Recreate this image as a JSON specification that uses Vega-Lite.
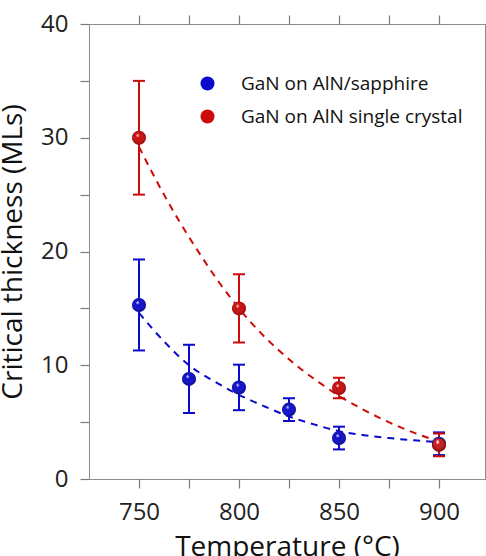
{
  "$schema": "https://vega.github.io/schema/vega-lite/v6.json",
  "width": 396,
  "height": 455,
  "autosize": {"type": "none"},
  "padding": {"left": 89, "top": 24, "right": 1, "bottom": 77},
  "background": "white",
  "config": {
    "view": {"stroke": "#8c8c8c", "strokeWidth": 1},
    "axis": {
      "grid": false,
      "zindex": 1,
      "domain": false,
      "ticks": true,
      "tickSize": 9,
      "tickColor": "#7a7a7a",
      "tickWidth": 1.2,
      "labelFont": "Open Sans",
      "labelFontSize": 24,
      "labelColor": "#222222",
      "titleFont": "Open Sans",
      "titleFontSize": 28,
      "titleFontWeight": "normal",
      "titleColor": "#111111"
    },
    "legend": {
      "labelFont": "Open Sans",
      "labelFontSize": 19,
      "labelColor": "#111111",
      "labelLimit": 400
    }
  },
  "datasets": {
    "pts": [
      {"t": 750, "v": 15.3, "lo": 11.3, "hi": 19.3, "series": "GaN on AlN/sapphire"},
      {"t": 775, "v": 8.8, "lo": 5.8, "hi": 11.8, "series": "GaN on AlN/sapphire"},
      {"t": 800, "v": 8.05, "lo": 6.05, "hi": 10.05, "series": "GaN on AlN/sapphire"},
      {"t": 825, "v": 6.1, "lo": 5.1, "hi": 7.1, "series": "GaN on AlN/sapphire"},
      {"t": 850, "v": 3.6, "lo": 2.6, "hi": 4.6, "series": "GaN on AlN/sapphire"},
      {"t": 900, "v": 3.1, "lo": 2.1, "hi": 4.1, "series": "GaN on AlN/sapphire"},
      {"t": 750, "v": 30, "lo": 25, "hi": 35, "series": "GaN on AlN single crystal"},
      {"t": 800, "v": 15, "lo": 12, "hi": 18, "series": "GaN on AlN single crystal"},
      {"t": 850, "v": 8, "lo": 7.1, "hi": 8.9, "series": "GaN on AlN single crystal"},
      {"t": 900, "v": 3.0, "lo": 2.0, "hi": 4.0, "series": "GaN on AlN single crystal"}
    ],
    "fit": [
      {"t": 750, "v": 14.6, "series": "GaN on AlN/sapphire"},
      {"t": 762.5, "v": 12.1, "series": "GaN on AlN/sapphire"},
      {"t": 775, "v": 10.0, "series": "GaN on AlN/sapphire"},
      {"t": 787.5, "v": 8.6, "series": "GaN on AlN/sapphire"},
      {"t": 800, "v": 7.4, "series": "GaN on AlN/sapphire"},
      {"t": 812.5, "v": 6.4, "series": "GaN on AlN/sapphire"},
      {"t": 825, "v": 5.5, "series": "GaN on AlN/sapphire"},
      {"t": 837.5, "v": 4.8, "series": "GaN on AlN/sapphire"},
      {"t": 850, "v": 4.2, "series": "GaN on AlN/sapphire"},
      {"t": 862.5, "v": 3.85, "series": "GaN on AlN/sapphire"},
      {"t": 875, "v": 3.6, "series": "GaN on AlN/sapphire"},
      {"t": 887.5, "v": 3.4, "series": "GaN on AlN/sapphire"},
      {"t": 900, "v": 3.25, "series": "GaN on AlN/sapphire"},
      {"t": 750, "v": 29.2, "series": "GaN on AlN single crystal"},
      {"t": 760, "v": 25.8, "series": "GaN on AlN single crystal"},
      {"t": 770, "v": 22.7, "series": "GaN on AlN single crystal"},
      {"t": 780, "v": 19.9, "series": "GaN on AlN single crystal"},
      {"t": 790, "v": 17.3, "series": "GaN on AlN single crystal"},
      {"t": 800, "v": 15.0, "series": "GaN on AlN single crystal"},
      {"t": 810, "v": 13.0, "series": "GaN on AlN single crystal"},
      {"t": 820, "v": 11.3, "series": "GaN on AlN single crystal"},
      {"t": 830, "v": 9.8, "series": "GaN on AlN single crystal"},
      {"t": 840, "v": 8.5, "series": "GaN on AlN single crystal"},
      {"t": 850, "v": 7.3, "series": "GaN on AlN single crystal"},
      {"t": 860, "v": 6.3, "series": "GaN on AlN single crystal"},
      {"t": 870, "v": 5.4, "series": "GaN on AlN single crystal"},
      {"t": 880, "v": 4.6, "series": "GaN on AlN single crystal"},
      {"t": 890, "v": 3.9, "series": "GaN on AlN single crystal"},
      {"t": 900, "v": 3.3, "series": "GaN on AlN single crystal"}
    ]
  },
  "resolve": {"axis": {"x": "independent", "y": "independent"}},
  "layer": [
    {
      "layer": [
        {
          "data": {"name": "fit"},
          "mark": {"type": "line", "strokeWidth": 2, "strokeDash": [7, 6], "interpolate": "monotone"},
          "encoding": {
            "x": {"field": "t", "type": "quantitative"},
            "y": {"field": "v", "type": "quantitative"},
            "detail": {"field": "series"},
            "stroke": {"field": "series", "type": "nominal",
              "scale": {"domain": ["GaN on AlN/sapphire", "GaN on AlN single crystal"], "range": ["#0a0acc", "#cc0a0a"]}}
          }
        },
        {
          "data": {"name": "pts"},
          "mark": {"type": "rule", "strokeWidth": 2},
          "encoding": {
            "x": {"field": "t", "type": "quantitative"},
            "y": {"field": "lo", "type": "quantitative"},
            "y2": {"field": "hi"},
            "stroke": {"field": "series", "type": "nominal"}
          }
        },
        {
          "data": {"name": "pts"},
          "mark": {"type": "tick", "orient": "horizontal", "size": 12, "thickness": 2, "opacity": 1},
          "encoding": {
            "x": {"field": "t", "type": "quantitative"},
            "y": {"field": "lo", "type": "quantitative"},
            "color": {"field": "series", "type": "nominal",
              "scale": {"domain": ["GaN on AlN/sapphire", "GaN on AlN single crystal"], "range": ["#0a0acc", "#cc0a0a"]}}
          }
        },
        {
          "data": {"name": "pts"},
          "mark": {"type": "tick", "orient": "horizontal", "size": 12, "thickness": 2, "opacity": 1},
          "encoding": {
            "x": {"field": "t", "type": "quantitative"},
            "y": {"field": "hi", "type": "quantitative"},
            "color": {"field": "series", "type": "nominal"}
          }
        },
        {
          "data": {"name": "pts"},
          "mark": {"type": "point", "filled": true, "shape": "circle", "size": 196, "opacity": 1},
          "encoding": {
            "x": {"field": "t", "type": "quantitative",
              "scale": {"domain": [725, 923], "nice": false, "zero": false},
              "axis": {
                "title": "Temperature (°C)",
                "values": [750, 775, 800, 825, 850, 875, 900],
                "labelExpr": "datum.value % 50 === 0 ? datum.label : ''",
                "labelPadding": 12,
                "titlePadding": 9
              }
            },
            "y": {"field": "v", "type": "quantitative",
              "scale": {"domain": [0, 40], "nice": false},
              "axis": {
                "title": "Critical thickness (MLs)",
                "values": [0, 5, 10, 15, 20, 25, 30, 35, 40],
                "labelExpr": "datum.value % 10 === 0 ? datum.label : ''",
                "labelPadding": 12,
                "titlePadding": 13
              }
            },
            "fill": {"field": "series", "type": "nominal", "title": null,
              "scale": {"domain": ["GaN on AlN/sapphire", "GaN on AlN single crystal"], "range": ["#0a0acc", "#cc0a0a"]},
              "legend": {"orient": "none", "legendX": 109, "legendY": 50, "labelOffset": 24, "rowPadding": 13, "symbolSize": 196, "symbolStrokeWidth": 0, "symbolType": "circle", "symbolDash": [], "symbolOpacity": 1}}
          }
        },
        {
          "data": {"name": "pts"},
          "mark": {"type": "point", "filled": true, "shape": "circle", "size": 196, "opacity": 1,
            "fill": {"gradient": "radial", "x1": 0.38, "y1": 0.3, "r1": 0, "x2": 0.5, "y2": 0.5, "r2": 0.5,
              "stops": [
                {"offset": 0, "color": "rgba(255,255,255,0.95)"},
                {"offset": 0.3, "color": "rgba(255,255,255,0)"},
                {"offset": 1, "color": "rgba(0,0,0,0.25)"}
              ]}},
          "encoding": {
            "x": {"field": "t", "type": "quantitative"},
            "y": {"field": "v", "type": "quantitative"}
          }
        }
      ]
    },
    {
      "data": {"name": "pts"},
      "mark": {"type": "point", "opacity": 0},
      "encoding": {
        "x": {"field": "t", "type": "quantitative",
          "axis": {"orient": "top", "title": null, "labels": false,
            "values": [750, 775, 800, 825, 850, 875, 900]}},
        "y": {"field": "v", "type": "quantitative",
          "axis": {"orient": "right", "title": null, "labels": false,
            "values": [0, 5, 10, 15, 20, 25, 30, 35, 40]}}
      }
    }
  ]
}
